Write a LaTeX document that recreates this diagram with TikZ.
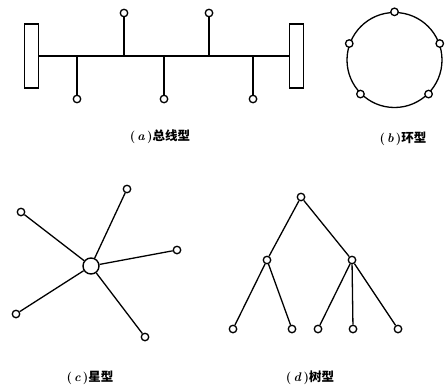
\documentclass[tikz,border=0pt]{standalone}
\usepackage{fontspec}
\usepackage{tikz}
\usetikzlibrary{positioning}
\newfontfamily\cjk{Noto Sans CJK SC}

\begin{document}
\begin{tikzpicture}[x=1pt, y=-1pt,
    % Node styles
    station/.style={circle, draw, fill=white, minimum size=7.5pt, inner sep=0pt, line width=1.3pt},
    hub/.style={circle, draw, fill=white, minimum size=16pt, inner sep=0pt, line width=1.4pt},
    term/.style={rectangle, draw, fill=white, minimum width=14pt, minimum height=64pt, inner sep=0pt, line width=1.2pt},
    ring/.style={circle, draw, minimum size=95pt, inner sep=0pt, line width=1.3pt},
    caption/.style={font=\fontsize{12.5}{14}\selectfont\bfseries, inner sep=0pt},
    % Edge styles
    edge/.style={draw, line width=1.3pt}
]
\useasboundingbox (0,0) rectangle (446,388);

% (a) Bus
\node[term] (tl) at (31.5,56) {};
\node[term] (tr) at (296.5,56) {};
\node[station] (s1) at (77,99) {};
\node[station] (s2) at (124,13) {};
\node[station] (s3) at (164,99) {};
\node[station] (s4) at (209,13) {};
\node[station] (s5) at (253,99) {};
\node[caption] (capa) at (160,137) {(\,\textit{a}\,)\cjk 总线型};

% (b) Ring
\node[ring] (loop) at (394.5,60) {};
\node[station] (r1) at (loop.90) {};
\node[station] (r2) at (loop.160) {};
\node[station] (r3) at (loop.225) {};
\node[station] (r4) at (loop.315) {};
\node[station] (r5) at (loop.20) {};
\node[caption] (capb) at (403,139) {(\,\textit{b}\,)\cjk 环型};

% (c) Star
\node[hub] (hub) at (91,266) {};
\node[station] (c1) at (21,212) {};
\node[station] (c2) at (127,189) {};
\node[station] (c3) at (177,250) {};
\node[station] (c4) at (16,314) {};
\node[station] (c5) at (145,337) {};
\node[caption] (capc) at (90,378) {(\,\textit{c}\,)\cjk 星型};

% (d) Tree
\node[station] (root) at (301,197) {};
\node[station] (ml) at (267,260) {};
\node[station] (mr) at (352,260) {};
\node[station] (l1) at (233,329) {};
\node[station] (l2) at (292,329) {};
\node[station] (l3) at (318,329) {};
\node[station] (l4) at (353,329) {};
\node[station] (l5) at (398,329) {};
\node[caption] (capd) at (310,378) {(\,\textit{d}\,)\cjk 树型};

% Draw all edges
\draw[edge] (tl.east) -- (tr.west);

\draw[edge] (s1) -- (s1 |- tl.east);
\draw[edge] (s2) -- (s2 |- tl.east);
\draw[edge] (s3) -- (s3 |- tl.east);
\draw[edge] (s4) -- (s4 |- tl.east);
\draw[edge] (s5) -- (s5 |- tl.east);

\draw[edge] (hub) -- (c1);
\draw[edge] (hub) -- (c2);
\draw[edge] (hub) -- (c3);
\draw[edge] (hub) -- (c4);
\draw[edge] (hub) -- (c5);

\draw[edge] (root) -- (ml);
\draw[edge] (root) -- (mr);

\draw[edge] (ml) -- (l1);
\draw[edge] (ml) -- (l2);

\draw[edge] (mr) -- (l3);
\draw[edge] (mr) -- (l4);
\draw[edge] (mr) -- (l5);

\end{tikzpicture}
\end{document}
